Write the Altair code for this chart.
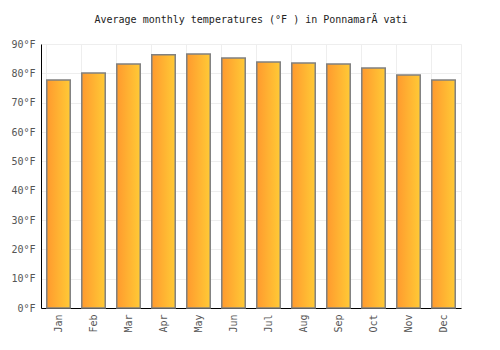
import altair as alt
import pandas as pd

months = ["Jan", "Feb", "Mar", "Apr", "May", "Jun", "Jul", "Aug", "Sep", "Oct", "Nov", "Dec"]
temps_f = [77.7, 80.1, 83.2, 86.3, 86.6, 85.2, 83.9, 83.5, 83.2, 81.8, 79.4, 77.7]
y_ticks = [0, 10, 20, 30, 40, 50, 60, 70, 80, 90]

df = pd.DataFrame({"month": months, "temp": temps_f})

gradient = alt.Gradient(
    gradient="linear",
    stops=[alt.GradientStop(color="#FF9A2E", offset=0), alt.GradientStop(color="#FFCA36", offset=1)],
    x1=0, x2=1, y1=0, y2=0,
)

font = "DejaVu Sans Mono"

chart = (
    alt.Chart(df)
    .mark_bar(color=gradient, stroke="#808080", strokeWidth=1.5)
    .encode(
        x=alt.X(
            "month:N",
            sort=months,
            scale=alt.Scale(paddingInner=0.33, paddingOuter=0.165),
            axis=alt.Axis(
                title=None, labelAngle=-90, grid=True, bandPosition=0, ticks=False,
                labelPadding=6, domainColor="#000000", gridColor="#eeeeee",
                labelFont=font, labelFontSize=10, labelColor="#555555",
                labelBaseline="middle", labelAlign="right",
            ),
        ),
        y=alt.Y(
            "temp:Q",
            scale=alt.Scale(domain=[0, 90], nice=False),
            axis=alt.Axis(
                title=None, values=y_ticks, labelExpr="datum.value + '°F'", ticks=False,
                labelPadding=6, domainColor="#000000", gridColor="#eeeeee",
                labelFont=font, labelFontSize=10, labelColor="#555555",
            ),
        ),
    )
    .properties(
        width=420,
        height=264,
        title=alt.TitleParams(
            "Average monthly temperatures (°F ) in PonnamarÄ vati",
            font=font, fontSize=10, fontWeight="normal", color="#222222",
            anchor="middle", offset=14,
        ),
        autosize=alt.AutoSizeParams(type="none"),
        padding={"left": 41, "top": 44, "right": 39, "bottom": 42},
    )
    .configure_view(stroke="#eeeeee")
)

chart.save("out.html", embed_options={"renderer": "svg", "actions": False})
